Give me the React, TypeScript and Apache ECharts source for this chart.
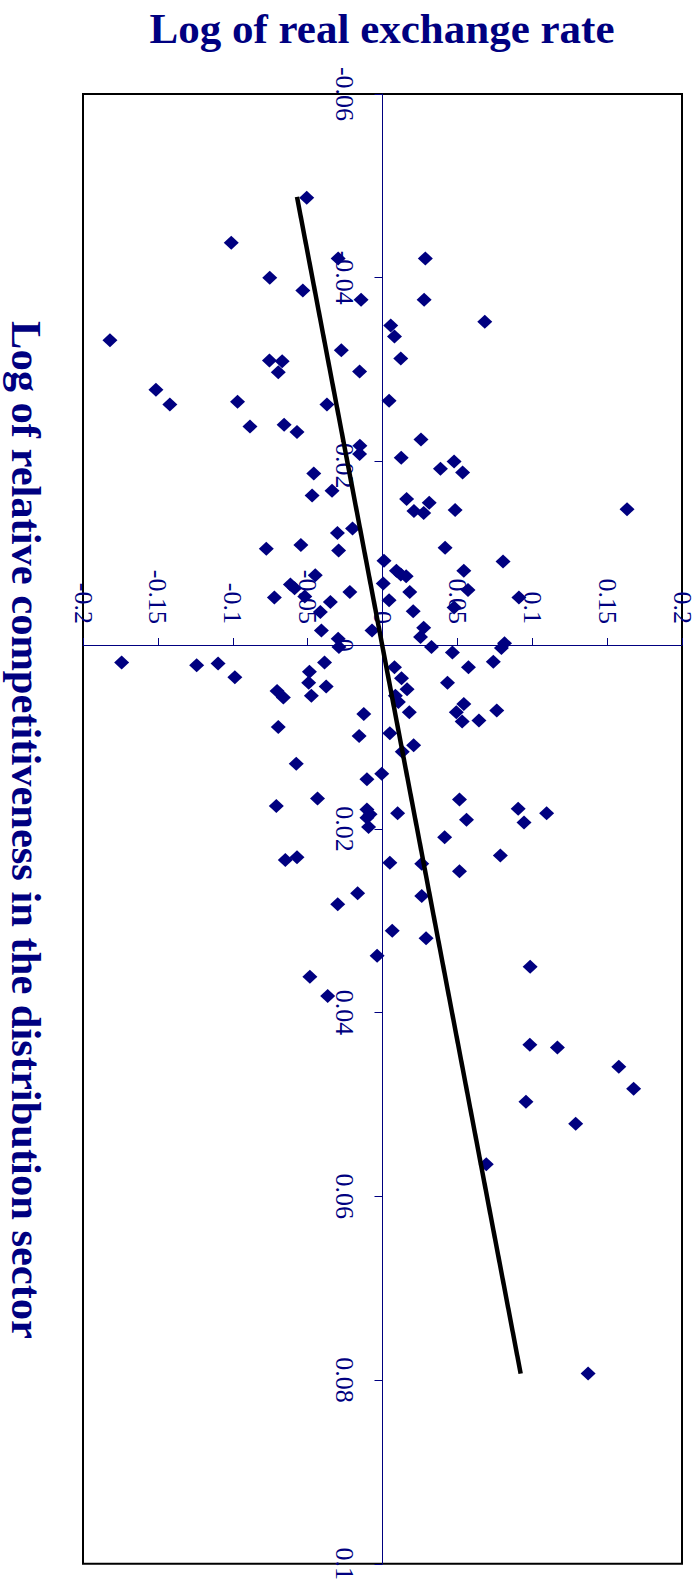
import React, { useEffect, useRef } from "react";
import * as echarts from "echarts";

const NAVY = "#000080";
const FONT = "'Liberation Serif', 'Times New Roman', serif";

const titleText = "Log of real exchange rate";
const sideText = "Log of relative competitiveness in the distribution sector";

// vertical axis: log of relative competitiveness in the distribution sector
const competitiveness = [
  -0.0487,
  -0.0438, -0.0421, -0.0421, -0.0400, -0.0386, -0.0376, -0.0376, -0.0352, -0.0348, -0.0332,
  -0.0336, -0.0321, -0.0310, -0.0309, -0.0312, -0.0297, -0.0298, -0.0278, -0.0262, -0.0265,
  -0.0262, -0.0266,
  -0.0238, -0.0240, -0.0232, -0.0224, -0.0217, -0.0208, -0.0204, -0.0200, -0.0192, -0.0188,
  -0.0187, -0.0168, -0.0163, -0.0159, -0.0155, -0.0146, -0.0144, -0.0147, -0.0148, -0.0127,
  -0.0122, -0.0105, -0.0109, -0.0103, -0.0106, -0.0092, -0.0091, -0.0081, -0.0081, -0.0077,
  -0.0075, -0.0076, -0.0066, -0.0062, -0.0067, -0.0058, -0.0060, -0.0058, -0.0052, -0.0053,
  -0.0049, -0.0052, -0.0047, -0.0041, -0.0036, -0.0037,
  -0.0016, -0.0016, -0.0019, -0.0009, -0.0007, 0.0002, -0.0002, 0.0003, 0.0002, 0.0008,
  0.0019, 0.0022, 0.0020, 0.0019, 0.0018, 0.0024, 0.0024, 0.0035, 0.0029, 0.0036,
  0.0041, 0.0045, 0.0048, 0.0041, 0.0050, 0.0057, 0.0055, 0.0055, 0.0062, 0.0064,
  0.0075, 0.0073, 0.0073, 0.0071, 0.0083, 0.0082, 0.0089, 0.0099, 0.0096, 0.0109,
  0.0116, 0.0129, 0.0140, 0.0146, 0.0167, 0.0168, 0.0175, 0.0178, 0.0183, 0.0179,
  0.0184, 0.0183, 0.0190, 0.0193, 0.0188, 0.0198, 0.0209,
  0.0234, 0.0231, 0.0229, 0.0237, 0.0238, 0.0246, 0.0270, 0.0273, 0.0282, 0.0311,
  0.0319, 0.0338, 0.0350, 0.0361, 0.0382,
  0.0435, 0.0438, 0.0459, 0.0483, 0.0497, 0.0521, 0.0565,
  0.0793,
];

// horizontal axis: log of real exchange rate
const exchangeRate = [
  -0.0506,
  -0.1010, -0.0296, 0.0286, -0.0753, -0.0532, -0.0143, 0.0278, 0.0683, 0.0055, -0.1820,
  0.0080, -0.0275, -0.0755, -0.0670, 0.0122, -0.0696, -0.0153, -0.1513, -0.1420, -0.0968,
  -0.0371, 0.0044,
  -0.0885, -0.0657, -0.0571, 0.0257, -0.0151, -0.0153, 0.0125, 0.0478, 0.0387, 0.0535,
  -0.0459, -0.0337, -0.0470, 0.0161, 0.0312, 0.0210, 0.0275, 0.0485, 0.1633, -0.0200,
  -0.0301, -0.0776, -0.0545, -0.0293, 0.0418, 0.0010, 0.0805, 0.0093, 0.0543, 0.0122,
  0.0158, -0.0449, -0.0615, -0.0587, 0.0005, 0.0182, 0.0571, -0.0218, -0.0722, -0.0519,
  0.0044, 0.0911, -0.0348, 0.0478, -0.0415, 0.0205,
  -0.0408, -0.0070, 0.0275, 0.0254, -0.0296, -0.0291, 0.0815, 0.0794, 0.0327, 0.0467,
  -0.1742, -0.1241, -0.1098, -0.0387, 0.0740, 0.0080, 0.0574, -0.0986, -0.0488, 0.0127,
  -0.0493, -0.0376, 0.0164, 0.0434, -0.0704, -0.0662, -0.0475, 0.0086, 0.0106, 0.0543,
  -0.0125, 0.0179, 0.0493, 0.0763, 0.0532, 0.0644, -0.0696, -0.0156, 0.0049, 0.0208,
  0.0132, -0.0576, -0.0005, -0.0104, -0.0434, 0.0514, -0.0709, 0.0906, 0.1096, -0.0104,
  -0.0083, 0.0101, 0.0561, 0.0945, -0.0104, -0.0093, 0.0415,
  -0.0649, -0.0571, 0.0787, 0.0049, 0.0262, 0.0514, -0.0166, 0.0262, -0.0299, 0.0065,
  0.0291, -0.0036, 0.0986, -0.0485, -0.0366,
  0.0984, 0.1168, 0.1578, 0.1677, 0.0958, 0.1290, 0.0693,
  0.1373,
];

// linear trend: exchangeRate = trendIntercept + trendSlope * competitiveness
const trendSlope = 1.166;
const trendIntercept = -0.0002;
const trendRange = [-0.0488, 0.0793];

const xMin = -0.2, xMax = 0.2, xInterval = 0.05;
const yMin = -0.06, yMax = 0.1, yInterval = 0.02;

const W = 699, H = 1583;
const G = { left: 83, right: 17, top: 94, bottom: 19 };

export default function App() {
  const ref = useRef<HTMLDivElement>(null);

  useEffect(() => {
    if (!ref.current) return;
    const chart = echarts.init(ref.current, null, { renderer: "svg" });
    const points = competitiveness.map((c, i) => [exchangeRate[i], c]);
    const trend = trendRange.map((c) => [trendIntercept + trendSlope * c, c]);

    const gw = W - G.left - G.right;
    const gh = H - G.top - G.bottom;
    // shift axes so they cross at zero (labels follow the lines)
    const zeroY = G.top + (gh * (0 - yMin)) / (yMax - yMin);
    const zeroX = G.left + (gw * (0 - xMin)) / (xMax - xMin);
    const xOffset = -(H - G.bottom - zeroY);
    const yOffset = -(zeroX - G.left);

    chart.setOption({
      animation: false,
      grid: {
        ...G,
        show: true,
        borderColor: "#000",
        borderWidth: 2,
        backgroundColor: "transparent",
      },
      xAxis: {
        type: "value",
        min: xMin,
        max: xMax,
        interval: xInterval,
        position: "bottom",
        offset: xOffset,
        axisLine: { onZero: false, lineStyle: { color: NAVY, width: 1 } },
        axisTick: { inside: true, length: 7, lineStyle: { color: NAVY } },
        axisLabel: {
          inside: true,
          rotate: -90,
          margin: 21,
          color: NAVY,
          fontSize: 26,
          fontFamily: FONT,
          showMinLabel: true,
          showMaxLabel: true,
          hideOverlap: false,
        },
        splitLine: { show: false },
      },
      yAxis: {
        type: "value",
        inverse: true,
        min: yMin,
        max: yMax,
        interval: yInterval,
        position: "left",
        offset: yOffset,
        axisLine: { onZero: false, lineStyle: { color: NAVY, width: 1 } },
        axisTick: { inside: false, length: 8, lineStyle: { color: NAVY } },
        axisLabel: {
          rotate: -90,
          margin: 25,
          color: NAVY,
          fontSize: 26,
          fontFamily: FONT,
          showMinLabel: true,
          showMaxLabel: true,
          hideOverlap: false,
        },
        splitLine: { show: false },
      },
      series: [
        {
          type: "scatter",
          symbol: "diamond",
          symbolSize: [15, 14],
          itemStyle: { color: NAVY, opacity: 1 },
          data: points,
        },
        {
          type: "line",
          data: trend,
          showSymbol: false,
          symbol: "none",
          lineStyle: { color: "#000", width: 4.5 },
          z: 3,
        },
      ],
      graphic: [
        {
          type: "text",
          x: 382,
          y: 28,
          style: {
            text: titleText,
            fill: NAVY,
            font: `bold 43px ${FONT}`,
            textAlign: "center",
            textVerticalAlign: "middle",
          },
        },
        {
          type: "text",
          x: 26,
          y: 830,
          rotation: -Math.PI / 2,
          style: {
            text: sideText,
            fill: NAVY,
            font: `bold 42.5px ${FONT}`,
            textAlign: "center",
            textVerticalAlign: "middle",
          },
        },
      ],
    });
    return () => chart.dispose();
  }, []);

  return (
    <div
      ref={ref}
      style={{ position: "absolute", left: 0, top: 0, width: W, height: H, background: "#fff" }}
    />
  );
}
